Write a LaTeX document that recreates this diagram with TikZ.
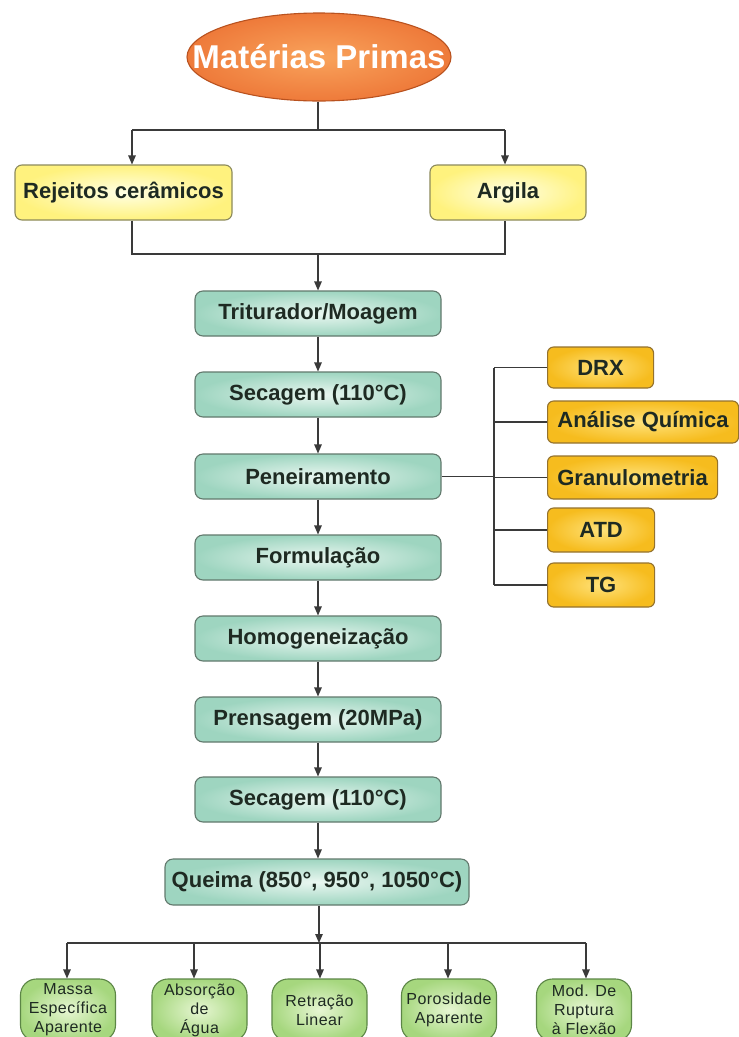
\documentclass[tikz,border=0pt]{standalone}
\usepackage{fontspec}
\setmainfont{Liberation Sans}
\usetikzlibrary{arrows.meta,shapes.geometric}

\definecolor{linegray}{HTML}{3A3A3A}
\definecolor{textdark}{HTML}{1E2A22}
\definecolor{ellout}{HTML}{EE7A3A}
\definecolor{ellin}{HTML}{F9A35C}
\definecolor{ellline}{HTML}{B9521F}
\definecolor{yelout}{HTML}{FFF27E}
\definecolor{yelin}{HTML}{FFFFE4}
\definecolor{yelline}{HTML}{8C8A5C}
\definecolor{grnout}{HTML}{9ED5C0}
\definecolor{grnin}{HTML}{EAF7F1}
\definecolor{grnline}{HTML}{62796D}
\definecolor{orgout}{HTML}{F6BC1E}
\definecolor{orgin}{HTML}{FFE27A}
\definecolor{orgline}{HTML}{94722E}
\definecolor{lgout}{HTML}{A6D77E}
\definecolor{lgin}{HTML}{E6F6D2}
\definecolor{lgline}{HTML}{5C8646}

\begin{document}
\begin{tikzpicture}[x=1pt,y=-1pt,
  conn/.style={draw=linegray, line width=1.1pt},
  arr/.style={conn, -{Triangle[length=9pt,width=7.5pt]}},
  base/.style={draw, line width=1.1pt, align=center, inner sep=0pt,
    font=\bfseries\fontsize{22}{26}\selectfont, text=textdark},
  yelbox/.style={base, rounded corners=7pt, minimum height=55pt,
    draw=yelline, inner color=yelin, outer color=yelout},
  grnbox/.style={base, rounded corners=8pt, minimum width=246pt, minimum height=45pt,
    draw=grnline, inner color=grnin, outer color=grnout},
  orgbox/.style={base, rounded corners=6pt, minimum height=42pt, anchor=west,
    draw=orgline, inner color=orgin, outer color=orgout},
  resbox/.style={base, rounded corners=16pt, minimum width=95pt, minimum height=62pt,
    draw=lgline, inner color=lgin, outer color=lgout,
    font=\fontsize{16}{19}\selectfont\addfontfeature{LetterSpace=3}, text=textdark}
]
\useasboundingbox (0,0) rectangle (739,1037);
\clip (0,0) rectangle (739,1037);
\fill[white] (0,0) rectangle (739,1037);

% raw materials
\node[ellipse, draw=ellline, line width=1.1pt, inner color=ellin, outer color=ellout,
  minimum width=264pt, minimum height=88pt, inner sep=0pt] (mp) at (319,57) {};
\node[font=\bfseries\fontsize{33}{37}\selectfont, text=white] (mptxt) at (mp.center) {Matérias Primas};

\node[yelbox, minimum width=217pt] (rej) at (123.5,192.5) {Rejeitos cerâmicos};
\node[yelbox, minimum width=156pt] (arg) at (508,192.5) {Argila};

% processing chain
\node[grnbox] (tri) at (318,313.5) {Triturador/Moagem};
\node[grnbox] (sec1) at (318,394.5) {Secagem (110°C)};
\node[grnbox] (pen) at (318,476.5) {Peneiramento};
\node[grnbox] (frm) at (318,557.5) {Formulação};
\node[grnbox] (hom) at (318,638.5) {Homogeneização};
\node[grnbox] (pre) at (318,719.5) {Prensagem (20MPa)};
\node[grnbox] (sec2) at (318,799.5) {Secagem (110°C)};
\node[grnbox, minimum width=304pt, minimum height=46pt] (que) at (317,882) {Queima (850°, 950°, 1050°C)};

% characterisation
\node[orgbox, minimum width=106pt, minimum height=41pt] (drx) at (547,367.5) {DRX};
\node[orgbox, minimum width=191pt] (aq) at (547,422) {Análise Química};
\node[orgbox, minimum width=170pt, minimum height=43pt] (gran) at (547,477.5) {Granulometria};
\node[orgbox, minimum width=107pt, minimum height=44pt] (atd) at (547,530) {ATD};
\node[orgbox, minimum width=107pt, minimum height=44pt] (tg) at (547,585) {TG};

% properties of the fired pieces
\node[resbox] (r1) at (68,1010) {Massa\\Específica\\Aparente};
\node[resbox] (r2) at (199.5,1010) {Absorção\\de\\Água};
\node[resbox] (r3) at (319.5,1010) {Retração\\Linear};
\node[resbox] (r4) at (449,1010) {Porosidade\\Aparente};
\node[resbox] (r5) at (584,1010) {Mod. De\\Ruptura\\à Flexão};

% split into the two raw materials
\coordinate (sT) at (318,130);
\coordinate (sL) at (132,130);
\coordinate (sR) at (505,130);
\draw[conn] (mp.south -| sT) -- (sT);
\draw[conn] (sL) -- (sR);
\draw[arr] (sL) -- (sL |- rej.north);
\draw[arr] (sR) -- (sR |- arg.north);

% join
\coordinate (jL) at (132,254);
\coordinate (jR) at (505,254);
\coordinate (jC) at (318,254);
\draw[conn] (jL |- rej.south) -- (jL) -- (jR) -- (jR |- arg.south);
\draw[arr] (jC) -- (tri.north);

% chain
\draw[arr] (tri.south) -- (sec1.north);
\draw[arr] (sec1.south) -- (pen.north);
\draw[arr] (pen.south) -- (frm.north);
\draw[arr] (frm.south) -- (hom.north);
\draw[arr] (hom.south) -- (pre.north);
\draw[arr] (pre.south) -- (sec2.north);
\draw[arr] (sec2.south) -- (que.north -| sec2.south);

% tests branch
\coordinate (bus) at (494,0);
\draw[conn] (pen.east) -- (pen.east -| bus);
\draw[conn] (bus |- drx.west) -- (bus |- tg.west);
\foreach \n in {drx,aq,gran,atd,tg}
  \draw[conn] (bus |- \n.west) -- (\n.west);

% results branch
\coordinate (bB) at (319,943);
\coordinate (b1) at (67,943);
\coordinate (b2) at (194,943);
\coordinate (b3) at (320,943);
\coordinate (b4) at (448,943);
\coordinate (b5) at (586,943);
\draw[arr] (que.south -| bB) -- (bB);
\draw[conn] (b1) -- (b5);
\draw[arr] (b1) -- (b1 |- r1.north);
\draw[arr] (b2) -- (b2 |- r2.north);
\draw[arr] (b3) -- (b3 |- r3.north);
\draw[arr] (b4) -- (b4 |- r4.north);
\draw[arr] (b5) -- (b5 |- r5.north);
\end{tikzpicture}
\end{document}
